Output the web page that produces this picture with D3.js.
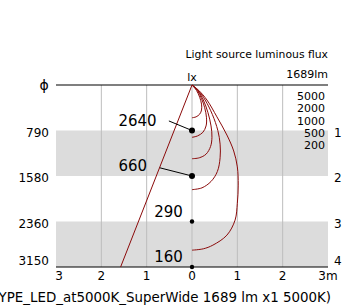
<!DOCTYPE html>
<html>
<head>
<meta charset="utf-8">
<script src="https://cdn.jsdelivr.net/npm/d3@7"></script>
<style>
  body { margin: 0; background: #fff; }
  svg { display: block; font-family: "DejaVu Sans", sans-serif; }
</style>
</head>
<body>
<svg width="360" height="308"></svg>
<script>
  // values
  const heights = [1, 2, 3, 4];                 // m below the lamp
  const diameters = [790, 1580, 2360, 3150];     // beam diameter, mm
  const centerLux = [2640, 660, 290, 160];       // lx on axis
  const levels = [5000, 2000, 1000, 500, 200];   // isolux levels
  const xTicks = [-3, -2, -1, 0, 1, 2, 3];
  const flux = 1689;
  const title = "(TYPE_LED_at5000K_SuperWide 1689 lm x1 5000K)";

  // isolux contours as [r (m), z (m)]
  const iso5000 = [[0,0],[0.1,0.12],[0.17,0.27],[0.21,0.42],[0.21,0.55],[0.17,0.64],[0.09,0.7],[0,0.72]];
  const iso2000 = [[0,0],[0.12,0.12],[0.21,0.3],[0.28,0.5],[0.32,0.72],[0.31,0.9],[0.24,1.04],[0.12,1.12],[0,1.15]];
  const iso1000 = [[0,0],[0.13,0.12],[0.25,0.33],[0.35,0.6],[0.42,0.9],[0.44,1.15],[0.41,1.35],[0.31,1.52],[0.16,1.6],[0,1.62]];
  const iso500  = [[0,0],[0.14,0.12],[0.29,0.33],[0.45,0.65],[0.57,1.0],[0.62,1.3],[0.62,1.6],[0.56,1.9],[0.42,2.12],[0.22,2.26],[0,2.3]];
  const iso200  = [[0,0],[0.15,0.12],[0.33,0.33],[0.55,0.7],[0.77,1.1],[0.92,1.45],[1.0,1.8],[1.02,2.2],[1.0,2.6],[0.95,2.97],[0.77,3.3],[0.46,3.52],[0.25,3.6],[0,3.63]];
  const contours = [iso5000, iso2000, iso1000, iso500, iso200];

  const svg = d3.select("svg");
  const red = "#8b0a0a";

  const x = d3.scaleLinear().domain([-3, 3]).range([56, 328]);
  const y = d3.scaleLinear().domain([0, 4]).range([85, 267]);

  // grey bands between 1-2 m and 3-4 m
  svg.selectAll("rect.band")
    .data([[1, 2], [3, 4]])
    .enter().append("rect")
    .attr("x", x(-3)).attr("width", x(3) - x(-3))
    .attr("y", d => y(d[0])).attr("height", d => y(d[1]) - y(d[0]))
    .attr("fill", "#dcdcdc");

  // vertical grid
  svg.selectAll("line.grid")
    .data(xTicks.slice(1, -1))
    .enter().append("line")
    .attr("x1", d => x(d)).attr("x2", d => x(d))
    .attr("y1", y(0)).attr("y2", y(4))
    .attr("stroke", "#bdbdbd").attr("stroke-width", 1);

  // top and bottom rules
  svg.selectAll("line.rule")
    .data([0, 4])
    .enter().append("line")
    .attr("x1", x(-3)).attr("x2", x(3))
    .attr("y1", d => y(d)).attr("y2", d => y(d))
    .attr("stroke", "#000").attr("stroke-width", 1.2);

  // beam edge
  const rMax = diameters[3] / 2000;
  svg.append("line")
    .attr("x1", x(0)).attr("y1", y(0))
    .attr("x2", x(-rMax)).attr("y2", y(heights[3]))
    .attr("stroke", red).attr("stroke-width", 1);

  // isolux curves
  const line = d3.line()
    .x(d => x(d[0])).y(d => y(d[1]))
    .curve(d3.curveCatmullRom.alpha(0.5));
  svg.selectAll("path.iso")
    .data(contours)
    .enter().append("path")
    .attr("d", line)
    .attr("fill", "none").attr("stroke", red).attr("stroke-width", 1);

  // leader lines for the top two readings
  const leaders = [[-0.51, 0.79], [-0.71, 1.82]];
  svg.selectAll("line.leader")
    .data(leaders)
    .enter().append("line")
    .attr("x1", d => x(d[0])).attr("y1", d => y(d[1]))
    .attr("x2", x(0)).attr("y2", (d, i) => y(heights[i]))
    .attr("stroke", "#000").attr("stroke-width", 1);

  // axis points
  svg.selectAll("circle.pt")
    .data(heights)
    .enter().append("circle")
    .attr("cx", x(0)).attr("cy", d => y(d))
    .attr("r", (d, i) => i < 2 ? 3 : 2.2)
    .attr("fill", "#000");

  // center lux readings
  const luxPos = [[-0.78, 0.91], [-0.99, 1.9], [-0.2, 2.91], [-0.2, 3.88]];
  svg.selectAll("text.lux")
    .data(centerLux)
    .enter().append("text")
    .attr("x", (d, i) => x(luxPos[i][0])).attr("y", (d, i) => y(luxPos[i][1]))
    .attr("text-anchor", "end")
    .attr("font-size", 15)
    .text(d => d);

  // label rows sit a little below each rule, the last one lifted above the axis
  const rowY = i => i === heights.length - 1 ? y(heights[i]) - 6 : y(heights[i]) + 2;

  // diameters on the left
  svg.selectAll("text.dia")
    .data(diameters)
    .enter().append("text")
    .attr("x", 49).attr("y", (d, i) => rowY(i))
    .attr("dy", "0.36em")
    .attr("text-anchor", "end")
    .attr("font-size", 12)
    .text(d => d);

  // heights on the right
  svg.selectAll("text.h")
    .data(heights)
    .enter().append("text")
    .attr("x", 334).attr("y", (d, i) => rowY(i))
    .attr("dy", "0.36em")
    .attr("font-size", 12)
    .text(d => d);

  // bottom axis labels
  svg.selectAll("text.tick")
    .data(xTicks)
    .enter().append("text")
    .attr("x", d => x(d) + (d === -3 ? 3 : 0)).attr("y", 280)
    .attr("text-anchor", "middle")
    .attr("font-size", 12)
    .text(d => Math.abs(d) + (d === 3 ? "m" : ""));

  // isolux legend
  svg.selectAll("text.lev")
    .data(levels)
    .enter().append("text")
    .attr("x", 325).attr("y", (d, i) => 96 + i * 12.3)
    .attr("dy", "0.36em")
    .attr("text-anchor", "end")
    .attr("font-size", 11)
    .text(d => d);

  svg.append("text")
    .attr("x", 44).attr("y", y(0)).attr("dy", "0.36em")
    .attr("text-anchor", "middle").attr("font-size", 14)
    .text("ϕ");

  svg.append("text")
    .attr("x", x(0)).attr("y", 81)
    .attr("text-anchor", "middle").attr("font-size", 11)
    .text("lx");

  svg.append("text")
    .attr("x", 328).attr("y", 58)
    .attr("text-anchor", "end").attr("font-size", 10.8)
    .text("Light source luminous flux");

  svg.append("text")
    .attr("x", 328).attr("y", 78)
    .attr("text-anchor", "end").attr("font-size", 11)
    .text(flux + "lm");

  svg.append("text")
    .attr("x", 331).attr("y", 302)
    .attr("text-anchor", "end").attr("font-size", 13.4)
    .text(title);
</script>
</body>
</html>
